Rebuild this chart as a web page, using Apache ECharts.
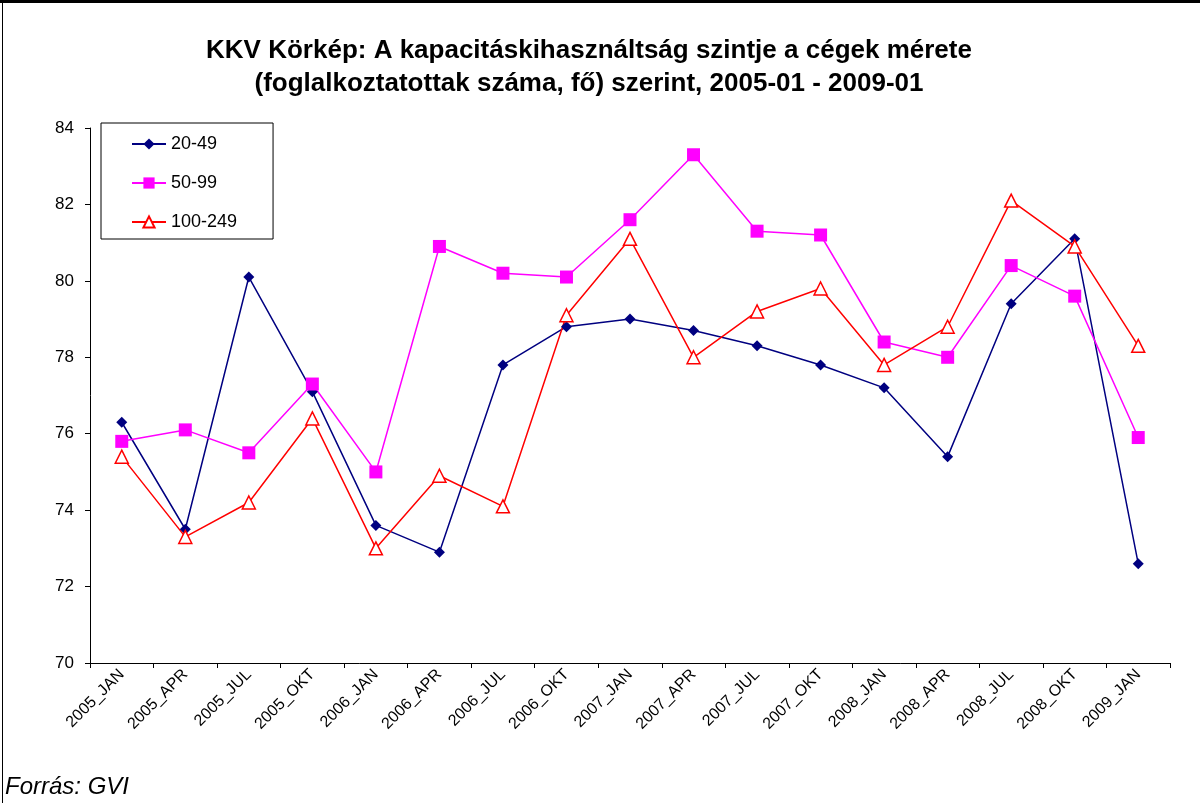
<!DOCTYPE html>
<html>
<head>
<meta charset="utf-8">
<title>KKV Körkép</title>
<script src="https://cdn.jsdelivr.net/npm/echarts@6/dist/echarts.min.js"></script>
<style>
  html, body { margin: 0; padding: 0; background: #fff; }
  #chart { width: 1200px; height: 803px; }
</style>
</head>
<body>
<div id="chart"></div>
<script>
// negyedéves kategóriák
var categories = ['2005_JAN', '2005_APR', '2005_JUL', '2005_OKT', '2006_JAN', '2006_APR', '2006_JUL', '2006_OKT',
  '2007_JAN', '2007_APR', '2007_JUL', '2007_OKT', '2008_JAN', '2008_APR', '2008_JUL', '2008_OKT', '2009_JAN'];

// cégméret szerint (fő)
var s20_49 = [76.3, 73.5, 80.1, 77.1, 73.6, 72.9, 77.8, 78.8, 79.0, 78.7, 78.3, 77.8, 77.2, 75.4, 79.4, 81.1, 72.6];
var s50_99 = [75.8, 76.1, 75.5, 77.3, 75.0, 80.9, 80.2, 80.1, 81.6, 83.3, 81.3, 81.2, 78.4, 78.0, 80.4, 79.6, 75.9];
var s100_249 = [75.4, 73.3, 74.2, 76.4, 73.0, 74.9, 74.1, 79.1, 81.1, 78.0, 79.2, 79.8, 77.8, 78.8, 82.1, 80.9, 78.3];

var yTicks = { min: 70, max: 84, step: 2 };

var chart = echarts.init(document.getElementById('chart'));

var font = 'Arial, "Liberation Sans", sans-serif';

chart.setOption({
  animation: false,
  backgroundColor: '#fff',
  textStyle: { fontFamily: font, color: '#000' },
  title: {
    text: 'KKV Körkép: A kapacitáskihasználtság szintje a cégek mérete\n(foglalkoztatottak száma, fő) szerint, 2005-01 - 2009-01',
    left: 584,
    top: 29,
    textAlign: 'center',
    textStyle: { fontFamily: font, fontSize: 26, fontWeight: 'bold', color: '#000', lineHeight: 33 }
  },
  legend: {
    orient: 'vertical',
    left: 101,
    top: 123,
    padding: [12, 36, 8, 30],
    itemGap: 21,
    itemWidth: 34,
    itemHeight: 14,
    borderColor: '#000',
    borderWidth: 1,
    backgroundColor: '#fff',
    textStyle: { fontFamily: font, fontSize: 18, color: '#000' },
    data: ['20-49', '50-99', '100-249']
  },
  grid: { left: 90, right: 30, top: 128, bottom: 140 },
  xAxis: {
    type: 'category',
    data: categories,
    boundaryGap: true,
    axisLine: { lineStyle: { color: '#000', width: 1 } },
    axisTick: { show: true, alignWithLabel: false, length: 5, lineStyle: { color: '#000' } },
    axisLabel: { rotate: 45, fontSize: 16, color: '#000', margin: 9, interval: 0, fontFamily: font },
    splitLine: { show: false }
  },
  yAxis: {
    type: 'value',
    min: yTicks.min,
    max: yTicks.max,
    interval: yTicks.step,
    axisLine: { show: true, lineStyle: { color: '#000', width: 1 } },
    axisTick: { show: true, length: 5, lineStyle: { color: '#000' } },
    axisLabel: { fontSize: 17, color: '#000', margin: 16, fontFamily: font },
    splitLine: { show: false }
  },
  series: [
    {
      name: '20-49',
      type: 'line',
      data: s20_49,
      symbol: 'diamond',
      symbolSize: 11,
      itemStyle: { color: '#000080' },
      lineStyle: { color: '#000080', width: 1.5 }
    },
    {
      name: '50-99',
      type: 'line',
      data: s50_99,
      symbol: 'rect',
      symbolSize: 13,
      itemStyle: { color: '#ff00ff' },
      lineStyle: { color: '#ff00ff', width: 1.5 }
    },
    {
      name: '100-249',
      type: 'line',
      data: s100_249,
      symbol: 'triangle',
      symbolSize: 13,
      itemStyle: { color: '#fff', borderColor: '#ff0000', borderWidth: 1.5 },
      lineStyle: { color: '#ff0000', width: 1.5 }
    }
  ],
  graphic: [
    { type: 'rect', shape: { x: 0, y: 0, width: 1200, height: 3 }, style: { fill: '#000' }, silent: true },
    { type: 'rect', shape: { x: 2, y: 0, width: 1, height: 803 }, style: { fill: '#000' }, silent: true },
    {
      type: 'text', left: 5, top: 775, silent: true,
      style: { text: 'Forrás: GVI', fill: '#000', font: 'italic 24px ' + font }
    }
  ]
});
</script>
</body>
</html>
